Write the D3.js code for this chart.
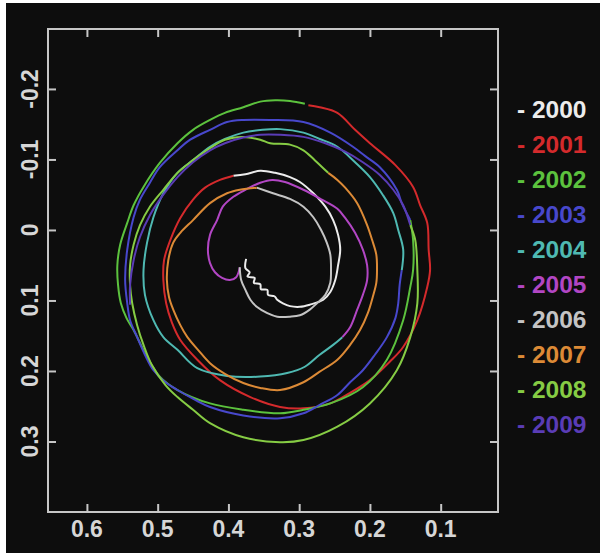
<!DOCTYPE html>
<html>
<head>
<meta charset="utf-8">
<script src="https://cdn.jsdelivr.net/npm/d3@7"></script>
<style>
  html, body { margin: 0; padding: 0; background: #ffffff; }
  svg { display: block; }
</style>
</head>
<body>
<script>

// pole path, one array per year, [x, y]
var y2000 = [[0.375,0.041],[0.376,0.054],[0.370,0.060],[0.373,0.066],[0.363,0.068],[0.364,0.075],[0.355,0.077],[0.354,0.084],[0.345,0.085],[0.344,0.092],[0.335,0.094],[0.331,0.099],[0.323,0.104],[0.313,0.108],[0.299,0.109],[0.285,0.106],[0.266,0.099],[0.256,0.088],[0.249,0.071],[0.245,0.050],[0.242,0.028],[0.245,0.007],[0.252,-0.014],[0.263,-0.033],[0.280,-0.052],[0.299,-0.068],[0.313,-0.075],[0.334,-0.081],[0.355,-0.084],[0.376,-0.079],[0.393,-0.077]];
var y2001 = [[0.393,-0.077],[0.412,-0.071],[0.433,-0.060],[0.450,-0.043],[0.468,-0.017],[0.482,0.014],[0.491,0.043],[0.492,0.071],[0.488,0.104],[0.480,0.131],[0.468,0.156],[0.444,0.184],[0.412,0.213],[0.369,0.237],[0.327,0.251],[0.294,0.253],[0.256,0.246],[0.228,0.231],[0.200,0.213],[0.172,0.187],[0.153,0.166],[0.133,0.128],[0.119,0.081],[0.115,0.057],[0.117,0.028],[0.119,-0.010],[0.129,-0.035],[0.139,-0.061],[0.164,-0.092],[0.200,-0.123],[0.221,-0.142],[0.246,-0.166],[0.271,-0.174],[0.287,-0.177]];
var y2002 = [[0.292,-0.179],[0.313,-0.183],[0.334,-0.184],[0.355,-0.182],[0.379,-0.174],[0.405,-0.166],[0.426,-0.156],[0.450,-0.142],[0.472,-0.123],[0.497,-0.095],[0.520,-0.061],[0.534,-0.035],[0.543,-0.010],[0.553,0.021],[0.557,0.050],[0.556,0.078],[0.552,0.104],[0.544,0.125],[0.534,0.142],[0.515,0.180],[0.497,0.208],[0.472,0.227],[0.426,0.246],[0.379,0.255],[0.327,0.260],[0.294,0.255],[0.256,0.246],[0.210,0.223],[0.176,0.184],[0.153,0.128],[0.143,0.081],[0.139,0.057],[0.139,0.014],[0.143,-0.014]];
var y2003 = [[0.143,-0.014],[0.155,-0.038],[0.162,-0.057],[0.186,-0.089],[0.207,-0.105],[0.224,-0.118],[0.256,-0.138],[0.294,-0.153],[0.341,-0.156],[0.379,-0.156],[0.402,-0.153],[0.426,-0.142],[0.454,-0.128],[0.472,-0.113],[0.497,-0.089],[0.511,-0.067],[0.525,-0.043],[0.534,-0.018],[0.543,0.028],[0.546,0.071],[0.543,0.104],[0.539,0.128],[0.529,0.152],[0.518,0.177],[0.506,0.199],[0.489,0.216],[0.472,0.227],[0.447,0.241],[0.426,0.251],[0.379,0.263],[0.327,0.267],[0.294,0.260],[0.271,0.248],[0.246,0.234],[0.228,0.216],[0.210,0.199],[0.193,0.177],[0.176,0.152],[0.164,0.125],[0.160,0.104],[0.158,0.078],[0.155,0.057]];
var y2004 = [[0.155,0.057],[0.153,0.028],[0.160,0.000],[0.167,-0.024],[0.182,-0.050],[0.200,-0.075],[0.221,-0.096],[0.246,-0.118],[0.271,-0.129],[0.294,-0.138],[0.327,-0.143],[0.352,-0.142],[0.379,-0.138],[0.405,-0.129],[0.426,-0.118],[0.450,-0.099],[0.472,-0.081],[0.492,-0.052],[0.506,-0.018],[0.515,0.018],[0.520,0.057],[0.518,0.092],[0.506,0.128],[0.492,0.152],[0.472,0.170],[0.444,0.196],[0.402,0.207],[0.355,0.208],[0.317,0.203],[0.292,0.194],[0.271,0.177],[0.252,0.163],[0.239,0.152]];
var y2005 = [[0.239,0.152],[0.228,0.138],[0.218,0.113],[0.210,0.092],[0.204,0.071],[0.204,0.050],[0.210,0.028],[0.221,0.004],[0.235,-0.017],[0.246,-0.030],[0.268,-0.043],[0.294,-0.057],[0.320,-0.068],[0.338,-0.071],[0.355,-0.067],[0.376,-0.057],[0.393,-0.047],[0.408,-0.033],[0.416,-0.014],[0.426,0.007],[0.429,0.028],[0.426,0.047],[0.419,0.060],[0.409,0.068],[0.398,0.071],[0.389,0.067],[0.384,0.053]];
var y2006 = [[0.384,0.053],[0.382,0.071],[0.376,0.085],[0.369,0.099],[0.360,0.109],[0.345,0.118],[0.331,0.123],[0.313,0.123],[0.299,0.121],[0.285,0.113],[0.275,0.104],[0.263,0.092],[0.256,0.075],[0.255,0.057],[0.256,0.035],[0.261,0.018],[0.269,0.000],[0.280,-0.018],[0.294,-0.033],[0.313,-0.044],[0.337,-0.052],[0.360,-0.060]];
var y2007 = [[0.360,-0.060],[0.384,-0.057],[0.402,-0.052],[0.426,-0.038],[0.450,-0.014],[0.468,0.004],[0.478,0.018],[0.485,0.043],[0.487,0.071],[0.484,0.095],[0.478,0.113],[0.468,0.135],[0.458,0.152],[0.443,0.170],[0.426,0.189],[0.405,0.204],[0.379,0.217],[0.355,0.224],[0.327,0.227],[0.294,0.216],[0.271,0.201],[0.246,0.184],[0.228,0.163],[0.214,0.142],[0.203,0.118],[0.196,0.095],[0.191,0.075],[0.190,0.057],[0.191,0.035],[0.197,0.014],[0.204,-0.007],[0.218,-0.038],[0.235,-0.060],[0.246,-0.071],[0.259,-0.081]];
var y2008 = [[0.259,-0.081],[0.278,-0.099],[0.294,-0.113],[0.313,-0.121],[0.341,-0.123],[0.355,-0.128],[0.379,-0.132],[0.405,-0.128],[0.426,-0.116],[0.450,-0.099],[0.472,-0.081],[0.492,-0.057],[0.511,-0.033],[0.525,-0.007],[0.534,0.021],[0.539,0.050],[0.539,0.078],[0.536,0.104],[0.529,0.135],[0.520,0.163],[0.508,0.192],[0.489,0.220],[0.472,0.237],[0.450,0.255],[0.426,0.274],[0.379,0.294],[0.327,0.301],[0.294,0.298],[0.246,0.279],[0.200,0.246],[0.162,0.199],[0.143,0.152],[0.133,0.104],[0.133,0.057],[0.136,0.014],[0.143,-0.007]];
var y2009 = [[0.143,-0.007],[0.153,-0.035],[0.167,-0.057],[0.186,-0.078],[0.210,-0.096],[0.235,-0.111],[0.263,-0.123],[0.294,-0.132],[0.327,-0.135],[0.355,-0.135],[0.379,-0.131],[0.405,-0.123],[0.426,-0.113],[0.450,-0.096],[0.472,-0.075],[0.492,-0.050],[0.511,-0.021],[0.525,0.010],[0.534,0.043],[0.539,0.078],[0.539,0.106]];

var years = ["2000","2001","2002","2003","2004","2005","2006","2007","2008","2009"];
var yearColors = ["#ececec","#d42a2c","#5cc23e","#4848cc","#4fb9b2","#b246c4","#c4c4c4","#dc8a36","#86cc44","#5a3cb6"];
var xTicks = [0.6, 0.5, 0.4, 0.3, 0.2, 0.1];
var yTicks = [-0.2, -0.1, 0, 0.1, 0.2, 0.3];
var xTickLabels = ["0.6", "0.5", "0.4", "0.3", "0.2", "0.1"];
var yTickLabels = ["-0.2", "-0.1", "0", "0.1", "0.2", "0.3"];

var paths = [y2000, y2001, y2002, y2003, y2004, y2005, y2006, y2007, y2008, y2009];

var W = 600, H = 553;
var box = {left: 48, top: 29, right: 498, bottom: 512};

var svg = d3.select("body").append("svg")
    .attr("width", W)
    .attr("height", H);

// dark picture area, thin white strip top/left like the scan
svg.append("rect")
    .attr("x", 6).attr("y", 3)
    .attr("width", W - 6).attr("height", H - 3)
    .attr("fill", "#0d0d0d");

var x = d3.scaleLinear().domain([0.655, 0.019]).range([box.left, box.right]);
var y = d3.scaleLinear().domain([-0.285, 0.400]).range([box.top, box.bottom]);

var line = d3.line()
    .x(function(d) { return x(d[0]); })
    .y(function(d) { return y(d[1]); })
    .curve(d3.curveCatmullRom.alpha(0.5));

svg.append("g")
    .selectAll("path")
    .data(paths)
  .enter().append("path")
    .attr("d", line)
    .attr("fill", "none")
    .attr("stroke", function(d, i) { return yearColors[i]; })
    .attr("stroke-width", 2)
    .attr("stroke-linejoin", "round");

// frame
svg.append("rect")
    .attr("x", box.left).attr("y", box.top)
    .attr("width", box.right - box.left)
    .attr("height", box.bottom - box.top)
    .attr("fill", "none")
    .attr("stroke", "#c6c6c6")
    .attr("stroke-width", 2);

var tickLen = 8;
var tickCol = "#c6c6c6";

// axes, ticks pointing inward on all sides
var axB = svg.append("g").attr("transform", "translate(0," + box.bottom + ")")
    .call(d3.axisTop(x).tickValues(xTicks).tickSize(tickLen).tickFormat(""));
var axT = svg.append("g").attr("transform", "translate(0," + box.top + ")")
    .call(d3.axisBottom(x).tickValues(xTicks).tickSize(tickLen).tickFormat(""));
var axL = svg.append("g").attr("transform", "translate(" + box.left + ",0)")
    .call(d3.axisRight(y).tickValues(yTicks).tickSize(tickLen).tickFormat(""));
var axR = svg.append("g").attr("transform", "translate(" + box.right + ",0)")
    .call(d3.axisLeft(y).tickValues(yTicks).tickSize(tickLen).tickFormat(""));

[axB, axT, axL, axR].forEach(function(a) {
    a.select(".domain").remove();
    a.selectAll("line").attr("stroke", tickCol).attr("stroke-width", 2);
});

var fontFam = "'Liberation Sans', Arial, Helvetica, sans-serif";

// x tick labels
svg.append("g").selectAll("text")
    .data(xTicks)
  .enter().append("text")
    .attr("x", function(d) { return x(d); })
    .attr("y", 536.5)
    .attr("text-anchor", "middle")
    .style("font-family", fontFam)
    .style("font-size", "23px")
    .style("font-weight", "bold")
    .attr("fill", "#d6d6d6")
    .text(function(d, i) { return xTickLabels[i]; });

// y tick labels, rotated
svg.append("g").selectAll("text")
    .data(yTicks)
  .enter().append("text")
    .attr("transform", function(d) { return "translate(37.5," + y(d) + ") rotate(-90)"; })
    .attr("text-anchor", "middle")
    .style("font-family", fontFam)
    .style("font-size", "23px")
    .style("font-weight", "bold")
    .attr("fill", "#d6d6d6")
    .text(function(d, i) { return yTickLabels[i]; });

// legend
svg.append("g").selectAll("text")
    .data(years)
  .enter().append("text")
    .attr("x", 517)
    .attr("y", function(d, i) { return 118.3 + i * 35; })
    .style("font-family", fontFam)
    .style("font-size", "24.5px")
    .style("font-weight", "bold")
    .attr("fill", function(d, i) { return yearColors[i]; })
    .text(function(d) { return "- " + d; });

</script>
</body>
</html>
